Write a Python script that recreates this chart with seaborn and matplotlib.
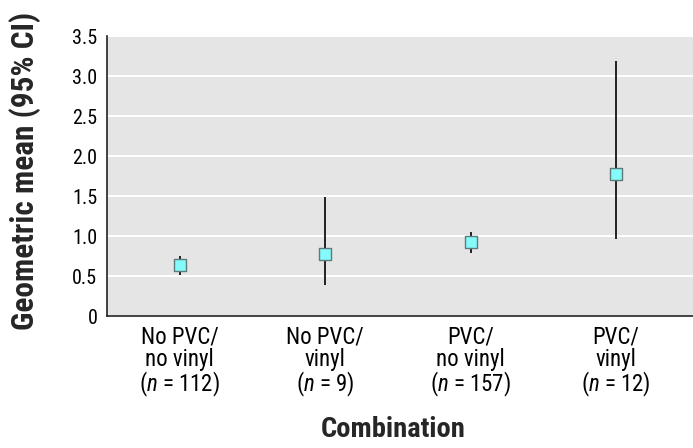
import numpy as np
import pandas as pd
import matplotlib
matplotlib.use('Agg')
import matplotlib.pyplot as plt
from matplotlib import font_manager
import seaborn as sns

# data
groups = ['No PVC/\nno vinyl\n($\\it{n}$ = 112)', 'No PVC/\nvinyl\n($\\it{n}$ = 9)',
          'PVC/\nno vinyl\n($\\it{n}$ = 157)', 'PVC/\nvinyl\n($\\it{n}$ = 12)']
geo_mean = [0.64, 0.78, 0.93, 1.78]
ci_low = [0.51, 0.39, 0.79, 0.96]
ci_high = [0.75, 1.49, 1.05, 3.19]

sns.set_style('whitegrid', {'axes.facecolor': '#e5e5e5', 'grid.color': 'white',
                            'axes.edgecolor': '#222222'})
names = {f.name for f in font_manager.fontManager.ttflist}
prefs = ['Roboto Condensed', 'PT Sans Narrow', 'Barlow Semi Condensed', 'Archivo Narrow']
font = next((n for n in prefs if n in names), 'Liberation Sans')
plt.rcParams['font.family'] = [font, 'DejaVu Sans']
plt.rcParams['mathtext.fontset'] = 'custom'
plt.rcParams['mathtext.rm'] = font
plt.rcParams['mathtext.it'] = font + ':italic'
plt.rcParams['text.color'] = 'black'
plt.rcParams['xtick.color'] = 'black'
plt.rcParams['ytick.color'] = 'black'

df = pd.DataFrame({'group': groups, 'mean': geo_mean, 'lo': ci_low, 'hi': ci_high})
df['x'] = np.arange(len(df))

fig = plt.figure(figsize=(6.93, 4.48), dpi=100)
ax = fig.add_axes([0.1544, 0.2946, 0.8456, 0.625])

ax.vlines(df['x'], df['lo'], df['hi'], color='black', linewidth=1.2, zorder=2)
sns.scatterplot(data=df, x='x', y='mean', marker='s', s=75, color='#84fafa',
                edgecolor='#5f7a7a', linewidth=1, zorder=3, ax=ax)

ax.set_xlim(-0.5, 3.53)
ax.set_ylim(0, 3.5)
ax.set_yticks(np.arange(0, 3.51, 0.5))
ax.set_yticklabels(['0'] + [f'{v:.1f}' for v in np.arange(0.5, 3.51, 0.5)])
ax.set_xticks(df['x'])
ax.set_xticklabels(df['group'], multialignment='center', linespacing=0.95)
ax.grid(axis='x', visible=False)
ax.grid(axis='y', color='white', linewidth=1.4)
ax.tick_params(axis='y', labelsize=14.5, length=0, pad=7)
ax.tick_params(axis='x', labelsize=16.5, length=0, pad=7)
for s in ['top', 'right']:
    ax.spines[s].set_visible(False)
ax.spines['left'].set_linewidth(1.2)
ax.spines['bottom'].set_linewidth(1.2)

ax.set_xlabel('Combination', fontsize=20.5, fontweight='bold', va='center')
ax.xaxis.set_label_coords(0.488, -0.407)
ax.set_ylabel('Geometric mean (95% CI)', fontsize=22.5, fontweight='bold', va='center')
ax.yaxis.set_label_coords(-0.140, 0.518)

plt.savefig('out.png', dpi=100)
plt.close()
